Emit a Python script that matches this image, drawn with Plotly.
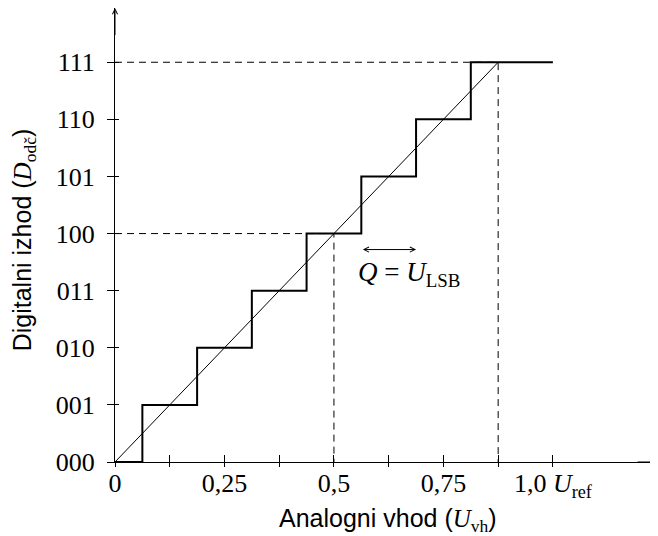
import plotly.graph_objects as go

# ---- data ----
codes = ["000", "001", "010", "011", "100", "101", "110", "111"]
code_levels = [0, 1, 2, 3, 4, 5, 6, 7]
step_x = [0.0, 0.0625, 0.1875, 0.3125, 0.4375, 0.5625, 0.6875, 0.8125, 1.0]
step_y = [0, 1, 2, 3, 4, 5, 6, 7, 7]
ideal_x = [0.0, 0.875]
ideal_y = [0, 7]
guide_full_x = [0.0, 0.875, 0.875]
guide_full_y = [7, 7, 0]
guide_half_x = [0.0, 0.5, 0.5]
guide_half_y = [4, 4, 0]
x_tick_vals = [0, 0.125, 0.25, 0.375, 0.5, 0.625, 0.75, 0.875, 1.0]
x_tick_text = ["0", " ", "0,25", " ", "0,5", " ", "0,75", " ", "1,0 <i>U</i><sub>ref</sub>"]
lsb_from, lsb_to, lsb_level = 0.5625, 0.6875, 3.72
x_title = 'Analogni vhod (<span style="font-family:Liberation Serif"><i>U</i><sub>vh</sub></span>)'
y_title = 'Digitalni izhod (<span style="font-family:Liberation Serif"><i>D</i><sub>odč</sub></span>)'

XMAX, YMAX = 1.24, 7.95
serif = "Liberation Serif"
sans = "Liberation Sans"

fig = go.Figure()
fig.add_trace(go.Scatter(x=step_x, y=step_y, mode="lines", line_shape="hv",
                         line=dict(color="black", width=2), hoverinfo="skip"))
fig.add_trace(go.Scatter(x=ideal_x, y=ideal_y, mode="lines",
                         line=dict(color="black", width=1), hoverinfo="skip",
                         xaxis="x2", yaxis="y2"))
for gx, gy in [(guide_full_x, guide_full_y), (guide_half_x, guide_half_y)]:
    fig.add_trace(go.Scatter(x=gx, y=gy, mode="lines",
                             line=dict(color="black", width=1, dash="7px,5px"),
                             hoverinfo="skip", xaxis="x2", yaxis="y2"))

# axis arrows
fig.add_annotation(x=XMAX, y=0, ax=XMAX - 0.05, ay=0, xref="x", yref="y", axref="x", ayref="y",
                   showarrow=True, arrowhead=5, arrowsize=1, arrowwidth=1, arrowcolor="black", text="")
fig.add_annotation(x=0, y=YMAX, ax=0, ay=YMAX - 0.5, xref="x", yref="y", axref="x", ayref="y",
                   showarrow=True, arrowhead=5, arrowsize=1, arrowwidth=1, arrowcolor="black", text="")
# LSB double arrow
fig.add_annotation(x=lsb_to, y=lsb_level, ax=lsb_from, ay=lsb_level, xref="x", yref="y",
                   axref="x", ayref="y", showarrow=True, arrowhead=5, startarrowhead=5,
                   arrowside="end+start", arrowsize=1, arrowwidth=1, arrowcolor="black", text="")
fig.add_annotation(x=lsb_from - 0.012, y=lsb_level - 0.43, xref="x", yref="y", showarrow=False,
                   xanchor="left", yanchor="middle",
                   text="<i>Q</i> = <i>U</i><sub>LSB</sub>",
                   font=dict(family=serif, size=27, color="black"))
# axis titles
fig.add_annotation(x=0.503, y=-0.128, xref="paper", yref="paper", showarrow=False,
                   xanchor="center", yanchor="middle", text=x_title,
                   font=dict(family=sans, size=25, color="black"))
fig.add_annotation(x=-0.168, y=0.49, xref="paper", yref="paper", showarrow=False,
                   xanchor="center", yanchor="middle", text=y_title, textangle=-90,
                   font=dict(family=sans, size=25, color="black"))

axis_common = dict(showgrid=False, zeroline=False, tickcolor="black", tickwidth=1, automargin=False)
# the page body has an 8px margin, so the figure is sized/offset to land on the window
fig.update_layout(
    width=650, height=528,
    margin=dict(l=107, r=0, t=0, b=74),
    paper_bgcolor="white", plot_bgcolor="white",
    showlegend=False,
    xaxis=dict(range=[0, XMAX], showline=True, linecolor="black", linewidth=1,
               tickvals=x_tick_vals, ticktext=x_tick_text, ticks="inside", ticklen=7,
               ticklabelstandoff=-2,
               tickfont=dict(family=serif, size=26, color="black"),
               **axis_common),
    yaxis=dict(range=[0, YMAX], showline=True, linecolor="black", linewidth=1,
               tickvals=code_levels, ticktext=codes, ticks="outside", ticklen=7,
               ticklabelstandoff=7,
               tickfont=dict(family=serif, size=26, color="black"),
               **axis_common),
    xaxis2=dict(range=[0, XMAX], overlaying="x", anchor="y2", showline=False,
                tickvals=x_tick_vals, ticks="outside", ticklen=4, showticklabels=False,
                **axis_common),
    yaxis2=dict(range=[0, YMAX], overlaying="y", anchor="x2", showline=False,
                tickvals=code_levels, ticks="inside", ticklen=4, showticklabels=False,
                **axis_common),
)

fig.write_html("out.html")
